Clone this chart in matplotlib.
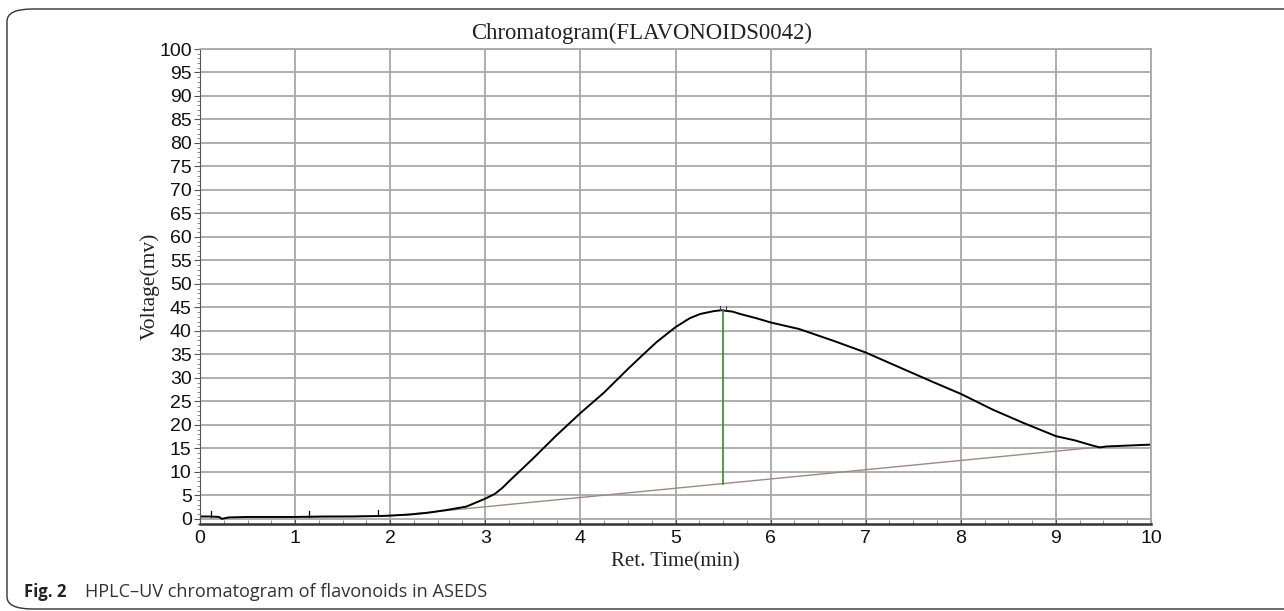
import matplotlib.pyplot as plt
from matplotlib.patches import FancyBboxPatch
from matplotlib.ticker import MultipleLocator
import numpy as np

# chromatogram trace (min, mV)
ret_time = [0, 0.1, 0.2, 0.23, 0.3, 0.5, 0.7, 1.0, 1.3, 1.6, 1.9, 2.0, 2.2, 2.4,
            2.6, 2.8, 3.0, 3.1, 3.18, 3.25, 3.5, 3.75, 4.0, 4.25, 4.5, 4.63, 4.8,
            5.0, 5.15, 5.26, 5.4, 5.48, 5.6, 5.68, 5.85, 6.0, 6.3, 6.66, 7.0, 7.36,
            7.71, 8.0, 8.34, 8.66, 9.0, 9.2, 9.35, 9.46, 9.53, 9.88, 10.0]
voltage = [0.5, 0.5, 0.4, 0.0, 0.3, 0.4, 0.4, 0.4, 0.5, 0.5, 0.6, 0.7, 0.9, 1.3,
           1.9, 2.6, 4.3, 5.3, 6.6, 8.0, 12.8, 17.8, 22.5, 26.9, 31.9, 34.4, 37.6,
           40.8, 42.7, 43.6, 44.2, 44.4, 44.1, 43.6, 42.7, 41.8, 40.4, 37.9, 35.4,
           32.2, 29.1, 26.6, 23.2, 20.4, 17.6, 16.7, 15.8, 15.2, 15.4, 15.7, 15.8]

# integration baseline
base_time = [1.1, 2.0, 9.46]
base_volt = [0.4, 0.6, 15.3]

# small event marks on the trace
event_time = [0.12, 1.15, 1.87]
peak_time = 5.5

fig = plt.figure(figsize=(12.84, 6.11), dpi=100)

# rounded outer frame
frame = FancyBboxPatch((7 / 1284, 2 / 611), 1.2, 600 / 611,
                       boxstyle="round,pad=0,rounding_size=0.02",
                       transform=fig.transFigure, fill=False,
                       ec='#333333', lw=1.0, clip_on=False)
fig.patches.append(frame)

ax = fig.add_axes([200 / 1284, 1 - 524 / 611, 951 / 1284, 475 / 611])
ax.set_xlim(0, 10)
ax.set_ylim(-1.1, 100)

ax.xaxis.set_major_locator(MultipleLocator(1))
ax.xaxis.set_minor_locator(MultipleLocator(0.25))
ax.yaxis.set_major_locator(MultipleLocator(5))
ax.yaxis.set_minor_locator(MultipleLocator(1))
ax.grid(True, which='major', color='#a8a8a8', lw=1.3)
ax.set_axisbelow(True)

for s in ['top', 'right']:
    ax.spines[s].set_color('#a8a8a8')
    ax.spines[s].set_linewidth(1.3)
ax.spines['left'].set_color('#555555')
ax.spines['bottom'].set_color('#333333')
ax.spines['bottom'].set_linewidth(1.8)

ax.tick_params(axis='both', which='major', labelsize=14, length=4,
               color='#555555', pad=2, labelfontfamily='Liberation Sans',
               labelcolor='#111111')
ax.tick_params(axis='x', which='minor', direction='in', length=3, color='#777777')
ax.tick_params(axis='y', which='minor', direction='out', length=2, color='#777777')
ax.tick_params(axis='x', which='major', direction='in', length=4, pad=4)

t = np.array(ret_time)
v = np.array(voltage)
ax.plot(base_time, base_volt, color='#a08888', lw=1.0)
ax.plot(t, v, color='black', lw=1.4)

# event marks
for et in event_time:
    yv = np.interp(et, t, v)
    ax.plot([et, et], [yv, yv + 1.2], color='black', lw=0.9)

# peak drop line
pv = np.interp(peak_time, t, v)
bv = np.interp(peak_time, base_time, base_volt)
ax.plot([peak_time, peak_time], [bv, pv], color='#2e8b2e', lw=1.2)
ax.plot([peak_time - 0.03, peak_time - 0.03], [pv, pv + 0.9], color='#304070', lw=0.8)
ax.plot([peak_time + 0.03, peak_time + 0.03], [pv, pv + 0.9], color='#304070', lw=0.8)

fig.text(0.5, 1 - 33 / 611, 'Chromatogram(FLAVONOIDS0042)', ha='center', va='center',
         fontsize=16.4, family='Liberation Serif', color='#222222')
fig.text(150 / 1284, 1 - 286 / 611, 'Voltage(mv)', rotation=90, ha='center', va='center',
         fontsize=15.5, family='Liberation Serif', color='#222222')
fig.text(675 / 1284, 1 - 562 / 611, 'Ret. Time(min)', ha='center', va='center',
         fontsize=15, family='Liberation Serif', color='#222222')

fig.text(24 / 1284, 1 - 592 / 611, 'Fig. 2', ha='left', va='center', fontsize=12,
         family='Open Sans', weight='bold', color='#222222')
fig.text(85 / 1284, 1 - 592 / 611, 'HPLC\u2013UV chromatogram of flavonoids in ASEDS',
         ha='left', va='center', fontsize=13.1, family='Open Sans', color='#333333')

fig.savefig('out.png', dpi=100)
